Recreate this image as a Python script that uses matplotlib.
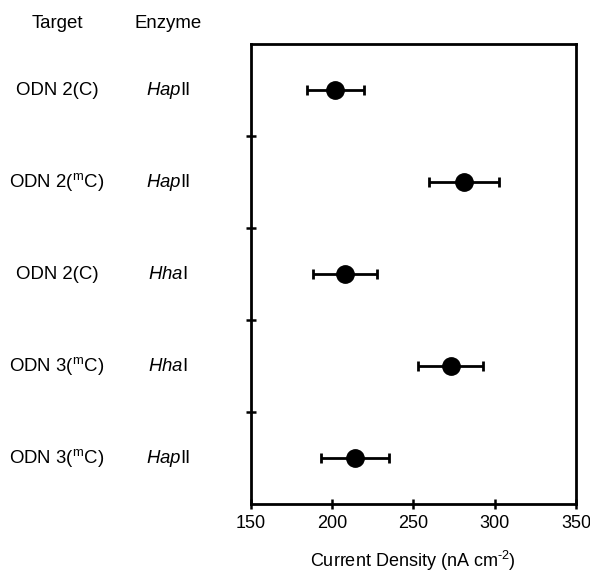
import matplotlib
matplotlib.use("Agg")
import matplotlib.pyplot as plt
import matplotlib.transforms as mtransforms

plt.rcParams["font.family"] = ["Liberation Sans", "DejaVu Sans"]
plt.rcParams["mathtext.fontset"] = "custom"
plt.rcParams["mathtext.rm"] = "Liberation Sans"
plt.rcParams["mathtext.it"] = "Liberation Sans:italic"

targets = ["ODN 2(C)", "ODN 2($^{\\mathrm{m}}$C)", "ODN 2(C)",
           "ODN 3($^{\\mathrm{m}}$C)", "ODN 3($^{\\mathrm{m}}$C)"]
enzymes = ["$\\mathit{Hap}$II", "$\\mathit{Hap}$II", "$\\mathit{Hha}$I",
           "$\\mathit{Hha}$I", "$\\mathit{Hap}$II"]
current = [202, 281, 208, 273, 214]
errors = [17.5, 21.5, 19.5, 20, 21]
x_ticks = [150, 200, 250, 300, 350]

fig = plt.figure(figsize=(5.9, 5.73), dpi=100)
ax = fig.add_axes([0.4249, 0.1204, 0.9763 - 0.4249, 0.9232 - 0.1204])

rows = list(range(len(current)))
ax.errorbar(current, rows, xerr=errors, fmt="o", color="black", markersize=12.5,
            elinewidth=2.0, capsize=3.8, capthick=2.0)

ax.set_xlim(150, 350)
ax.set_ylim(len(current) - 0.5, -0.5)
ax.set_xticks(x_ticks)
ax.set_yticks([r + 0.5 for r in rows[:-1]])
ax.set_yticklabels([])
ax.tick_params(axis="both", direction="inout", length=6.5, width=1.8,
               labelsize=13, pad=6)
ax.tick_params(axis="x", pad=5)
for s in ax.spines.values():
    s.set_linewidth(2.0)
ax.set_xlabel("Current Density (nA cm$^{\\text{-2}}$)", fontsize=13, labelpad=12)

# row labels: x in figure coords, y in data coords
trans = mtransforms.blended_transform_factory(fig.transFigure, ax.transData)
for r, t, e in zip(rows, targets, enzymes):
    ax.text(57 / 590, r, t, transform=trans, ha="center", va="center",
            fontsize=13.4, clip_on=False)
    ax.text(168 / 590, r, e, transform=trans, ha="center", va="center",
            fontsize=13.4, clip_on=False)

fig.text(57 / 590, 1 - 23 / 573, "Target", ha="center", va="center", fontsize=13.4)
fig.text(168 / 590, 1 - 23 / 573, "Enzyme", ha="center", va="center", fontsize=13.4)

fig.savefig("out.png", dpi=100)
